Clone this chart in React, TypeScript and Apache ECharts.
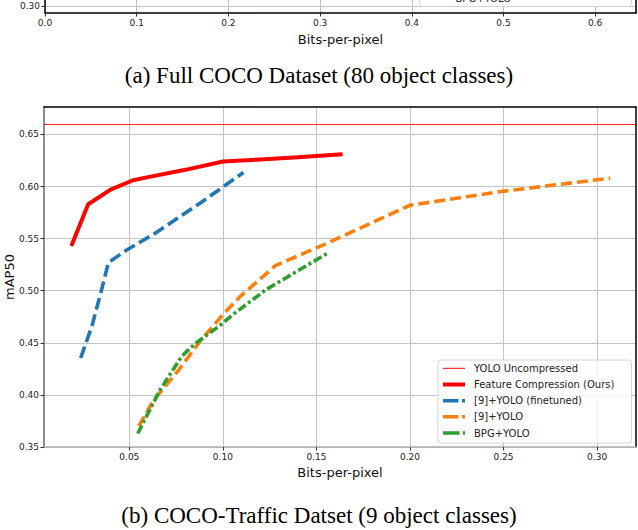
import React, { useEffect, useRef } from "react";
import * as echarts from "echarts";

// ---- data ----
const SERIES_NAMES = [
  "YOLO Uncompressed",
  "Feature Compression (Ours)",
  "[9]+YOLO (finetuned)",
  "[9]+YOLO",
  "BPG+YOLO",
];
const YOLO_UNCOMPRESSED_MAP = 0.6615;

const oursBpp = [0.019, 0.028, 0.04, 0.052, 0.06, 0.08, 0.1, 0.12, 0.14, 0.164];
const oursMap = [0.543, 0.583, 0.597, 0.606, 0.609, 0.616, 0.624, 0.626, 0.628, 0.631];

const finetunedBpp = [0.024, 0.03, 0.0352, 0.0388, 0.0486, 0.0646, 0.0878, 0.111];
const finetunedMap = [0.4354, 0.466, 0.501, 0.527, 0.539, 0.556, 0.584, 0.6135];

const ref9Bpp = [0.055, 0.063, 0.076, 0.088, 0.1, 0.109, 0.128, 0.155, 0.2, 0.248, 0.307];
const ref9Map = [0.37, 0.395, 0.423, 0.452, 0.477, 0.494, 0.524, 0.545, 0.582, 0.595, 0.608];

const bpgBpp = [0.0545, 0.0665, 0.078, 0.085, 0.098, 0.106, 0.123, 0.156];
const bpgMap = [0.363, 0.405, 0.437, 0.449, 0.466, 0.478, 0.501, 0.536];

const xTicksMain = [0.05, 0.1, 0.15, 0.2, 0.25, 0.3];
const yTicksMain = [0.35, 0.4, 0.45, 0.5, 0.55, 0.6, 0.65];
const yTicksTop = [0.3, 0.35];

const CAPTION_A = "(a) Full COCO Dataset (80 object classes)";
const CAPTION_B = "(b) COCO-Traffic Datset (9 object classes)";

const COLORS = ["#ff0000", "#ff0000", "#1f77b4", "#ff7f0e", "#2ca02c"];

const zip = (xs: number[], ys: number[]) => xs.map((x, i) => [x, ys[i]]);

const FONT = "DejaVu Sans";
const GRID_COLOR = "#c4c4c4";

export default function App() {
  const ref = useRef<HTMLDivElement>(null);
  useEffect(() => {
    document.body.style.margin = "0";
    if (!ref.current) return;
    const chart = echarts.init(ref.current, undefined, { renderer: "svg" });

    const tickLabel = { fontFamily: FONT, fontSize: 9, color: "#222" };
    const hidden = {
      axisTick: { show: false },
      axisLabel: { show: false },
      splitLine: { show: false },
    };

    const legendRows = [368.3, 384.5, 400.7, 416.8, 433];
    const legendWidths = [1, 4, 3.6, 3.6, 3.6];
    const legendDash: (number[] | null)[] = [null, null, [15.5, 3.5], [15.5, 3.5], [16.5, 3.4]];

    const legendGraphics: any[] = [
      {
        type: "rect",
        shape: { x: 438, y: 360, width: 193.5, height: 83, r: 3 },
        style: { fill: "rgba(255,255,255,0.85)", stroke: "#d4d4d4", lineWidth: 1 },
        z: 100,
      },
    ];
    SERIES_NAMES.forEach((name, i) => {
      legendGraphics.push({
        type: "line",
        shape: { x1: 443, y1: legendRows[i], x2: 465, y2: legendRows[i] },
        style: {
          stroke: COLORS[i],
          lineWidth: legendWidths[i],
          lineDash: legendDash[i] || undefined,
        },
        z: 101,
      });
      legendGraphics.push({
        type: "text",
        x: 474,
        y: legendRows[i],
        style: {
          text: name,
          fontFamily: FONT,
          fontSize: 10,
          fill: "#222",
          verticalAlign: "middle",
        },
        z: 101,
      });
    });

    const option: any = {
      animation: false,
      grid: [
        { left: 44, top: 107, width: 592, height: 340, containLabel: false, outerBoundsMode: "none" },
        { left: 45, top: -60, width: 591, height: 73, containLabel: false, outerBoundsMode: "none" },
      ],
      xAxis: [
        {
          type: "value",
          gridIndex: 0,
          min: 0.0044,
          max: 0.3208,
          position: "bottom",
          axisLine: { show: true, lineStyle: { color: "#b0b0b0", width: 1.5 } },
          axisTick: { show: true, length: 3.5, lineStyle: { color: "#333" }, customValues: xTicksMain },
          axisLabel: { ...tickLabel, margin: 5, customValues: xTicksMain, formatter: (v: number) => v.toFixed(2) },
          splitLine: { show: true, lineStyle: { color: GRID_COLOR, width: 1 } },
          name: "Bits-per-pixel",
          nameLocation: "middle",
          nameGap: 19,
          nameTextStyle: { fontFamily: FONT, fontSize: 13, color: "#111" },
        },
        {
          type: "value",
          gridIndex: 0,
          min: 0.0044,
          max: 0.3208,
          position: "top",
          axisLine: { show: true, lineStyle: { color: "#000", width: 1.5 } },
          ...hidden,
        },
        {
          type: "value",
          gridIndex: 1,
          min: 0,
          max: 0.6445,
          interval: 0.1,
          position: "bottom",
          axisLine: { show: true, lineStyle: { color: "#000", width: 1.5 } },
          axisTick: { show: true, length: 3.5, lineStyle: { color: "#333" } },
          axisLabel: {
            ...tickLabel,
            margin: 5,
            showMaxLabel: false,
            formatter: (v: number) => (Math.abs(v * 10 - Math.round(v * 10)) < 1e-6 ? v.toFixed(1) : ""),
          },
          splitLine: { show: true, lineStyle: { color: GRID_COLOR, width: 1 } },
          name: "Bits-per-pixel",
          nameLocation: "middle",
          nameGap: 20,
          nameTextStyle: { fontFamily: FONT, fontSize: 13, color: "#111" },
        },
      ],
      yAxis: [
        {
          type: "value",
          gridIndex: 0,
          min: 0.35,
          max: 0.6763,
          position: "left",
          axisLine: { show: true, lineStyle: { color: "#666", width: 1.5 } },
          axisTick: { show: true, length: 3.5, lineStyle: { color: "#333" }, customValues: yTicksMain },
          axisLabel: { ...tickLabel, margin: 5, customValues: yTicksMain, formatter: (v: number) => v.toFixed(2) },
          splitLine: { show: true, lineStyle: { color: GRID_COLOR, width: 1 } },
          name: "mAP50",
          nameLocation: "middle",
          nameGap: 28,
          nameMoveOverlap: false,
          nameTextStyle: { fontFamily: FONT, fontSize: 13, color: "#111" },
        },
        {
          type: "value",
          gridIndex: 0,
          min: 0.35,
          max: 0.6763,
          position: "right",
          axisLine: { show: true, lineStyle: { color: "#000", width: 1.5 } },
          ...hidden,
        },
        {
          type: "value",
          gridIndex: 1,
          min: 0.29,
          max: 0.3943,
          position: "left",
          axisLine: { show: true, lineStyle: { color: "#000", width: 1.5 } },
          axisTick: { show: true, length: 3.5, lineStyle: { color: "#333" }, customValues: yTicksTop },
          axisLabel: { ...tickLabel, margin: 5, customValues: yTicksTop, formatter: (v: number) => v.toFixed(2) },
          splitLine: { show: true, lineStyle: { color: GRID_COLOR, width: 1 } },
        },
        {
          type: "value",
          gridIndex: 1,
          min: 0.29,
          max: 0.3943,
          position: "right",
          axisLine: { show: true, lineStyle: { color: "#000", width: 1.5 } },
          ...hidden,
        },
      ],
      series: [
        {
          name: SERIES_NAMES[0],
          type: "line",
          xAxisIndex: 0,
          yAxisIndex: 0,
          data: [],
          markLine: {
            silent: true,
            symbol: "none",
            label: { show: false },
            lineStyle: { color: COLORS[0], width: 1, type: "solid", opacity: 0.85 },
            data: [{ yAxis: YOLO_UNCOMPRESSED_MAP }],
          },
        },
        {
          name: SERIES_NAMES[1],
          type: "line",
          xAxisIndex: 0,
          yAxisIndex: 0,
          data: zip(oursBpp, oursMap),
          symbol: "none",
          lineStyle: { color: COLORS[1], width: 4 },
        },
        {
          name: SERIES_NAMES[2],
          type: "line",
          xAxisIndex: 0,
          yAxisIndex: 0,
          data: zip(finetunedBpp, finetunedMap),
          symbol: "none",
          lineStyle: { color: COLORS[2], width: 3.6, type: [12, 5] },
        },
        {
          name: SERIES_NAMES[3],
          type: "line",
          xAxisIndex: 0,
          yAxisIndex: 0,
          data: zip(ref9Bpp, ref9Map),
          symbol: "none",
          lineStyle: { color: COLORS[3], width: 3.6, type: [11, 5] },
        },
        {
          name: SERIES_NAMES[4],
          type: "line",
          xAxisIndex: 0,
          yAxisIndex: 0,
          data: zip(bpgBpp, bpgMap),
          symbol: "none",
          lineStyle: { color: COLORS[4], width: 3.6, type: [9, 3, 3, 3] },
        },
      ],
      graphic: [
        ...legendGraphics,
        {
          type: "rect",
          shape: { x: 419.5, y: -80, width: 212, height: 86.5, r: 3 },
          style: { fill: "rgba(255,255,255,0.85)", stroke: "#d4d4d4", lineWidth: 1 },
          z: 100,
        },
        {
          type: "text",
          x: 455.5,
          y: -1.5,
          style: { text: SERIES_NAMES[4], fontFamily: FONT, fontSize: 10, fill: "#222", verticalAlign: "middle" },
          z: 101,
        },
        {
          type: "text",
          x: 319,
          y: 75,
          style: {
            text: CAPTION_A,
            fontFamily: "Liberation Serif",
            fontSize: 23,
            fill: "#000",
            align: "center",
            verticalAlign: "middle",
          },
        },
        {
          type: "text",
          x: 319,
          y: 515,
          style: {
            text: CAPTION_B,
            fontFamily: "Liberation Serif",
            fontSize: 23,
            fill: "#000",
            align: "center",
            verticalAlign: "middle",
          },
        },
      ],
    };
    chart.setOption(option);
    return () => chart.dispose();
  }, []);
  return <div ref={ref} style={{ width: 638, height: 530 }} />;
}
